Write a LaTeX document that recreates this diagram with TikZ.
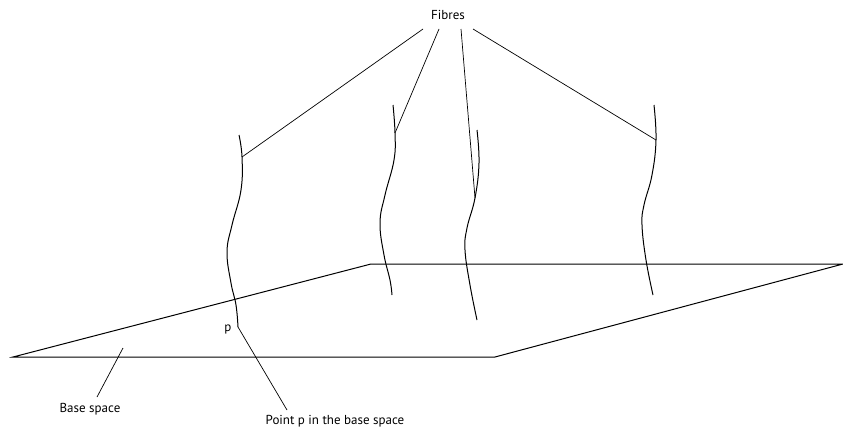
\documentclass[tikz,border=0pt]{standalone}
\usepackage{fontspec}
\setmainfont{PT Sans}
\begin{document}
\begin{tikzpicture}[x=1pt,y=-1pt,
  lbl/.style={font=\fontsize{13}{15}\selectfont, inner sep=0pt},
  fibre/.style={line width=1pt},
  plane/.style={line width=1pt},
  leader/.style={line width=0.7pt}]
\useasboundingbox (0,0) rectangle (843,434);
% base plane
\draw[plane] (13,357) -- (371,264) -- (843,264) -- (495,357) -- cycle;
% fibres
\draw[fibre] plot[smooth, tension=0.7] coordinates {(239,135) (242,157) (241,190) (232,225) (227,252) (231,283) (236,305) (238,327)};
\draw[fibre] plot[smooth, tension=0.7] coordinates {(393,105) (395,133) (394,160) (385,195) (380,223) (384,255) (390,280) (392,295)};
\draw[fibre] plot[smooth, tension=0.7] coordinates {(477,130) (479,163) (475,198) (467,228) (465,250) (470,285) (477,320)};
\draw[fibre] plot[smooth, tension=0.7] coordinates {(654,105) (656,140) (652,175) (644,205) (642,225) (646,260) (653,295)};
% attachment points
\coordinate (a1) at (242,157);
\coordinate (a2) at (395,133);
\coordinate (a3) at (475,198);
\coordinate (a4) at (656,140);
\coordinate (pp) at (238,327);
\coordinate (bs) at (123,348);
% labels
\node[lbl] (fib) at (448,15) {Fibres};
\node[lbl] (p) at (228,329) {p};
\node[lbl] (base) at (90,409) {Base space};
\node[lbl] (pt) at (335,421) {Point p in the base space};
\coordinate (s1) at (423,29);
\coordinate (s2) at (439,29);
\coordinate (s3) at (461,29);
\coordinate (s4) at (473,29);
\draw[leader] (s1) -- (a1);
\draw[leader] (s2) -- (a2);
\draw[leader] (s3) -- (a3);
\draw[leader] (s4) -- (a4);
\draw[leader] (pp) -- (287,410) coordinate (pe);
\draw[leader] (97,397) coordinate (be) -- (bs);
\end{tikzpicture}
\end{document}
